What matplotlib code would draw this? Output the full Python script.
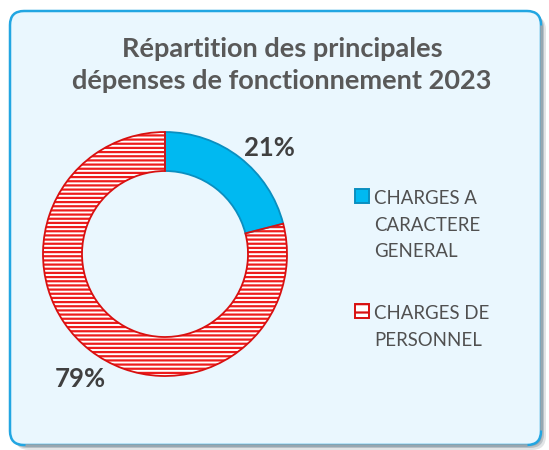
import numpy as np
import matplotlib
matplotlib.use("Agg")
import matplotlib.pyplot as plt
from matplotlib.patches import FancyBboxPatch, Rectangle, Wedge

# données
categories = ["CHARGES A\nCARACTERE\nGENERAL", "CHARGES DE\nPERSONNEL"]
parts = [21, 79]
colors = ["#00b9f1", "#ffffff"]
edge_colors = ["#0a8fc0", "#d81010"]
hatches = [None, "----"]
title = "Répartition des principales\ndépenses de fonctionnement 2023"

W, H = 549, 450

plt.rcParams["font.family"] = ["Lato", "DejaVu Sans"]
plt.rcParams["hatch.linewidth"] = 1.6

fig = plt.figure(figsize=(W / 100, H / 100), dpi=100)
fig.patch.set_facecolor("white")
ax = fig.add_axes([0, 0, 1, 1])

# cadre arrondi (ombre + fond)
for off, a in [(5, 0.25), (3, 0.45), (1.5, 0.6)]:
    ax.add_patch(FancyBboxPatch((10 + off, 5 - off), 531, 434, boxstyle="round,pad=0,rounding_size=14",
                                facecolor="#8a969e", edgecolor="none", alpha=a))
frame = FancyBboxPatch((10, 5), 531, 434, boxstyle="round,pad=0,rounding_size=14",
                       facecolor="#eaf7fe", edgecolor="#22a6e2", linewidth=1.8)
ax.add_patch(frame)
# bords droit / bas grisés
ax.plot([541, 541], [20, 425], color="#9aa6ae", lw=1.8, solid_capstyle="butt")
ax.plot([25, 527], [5, 5], color="#9aa6ae", lw=1.8, solid_capstyle="butt")

# anneau
center = (165, H - 254)
radius = 122
wedges, _, autotexts = ax.pie(parts, colors=colors, startangle=90, counterclock=False,
                              radius=radius, center=center, autopct="%d%%", pctdistance=1.2,
                              wedgeprops=dict(width=39, linewidth=0))
for w, ec, h in zip(wedges, edge_colors, hatches):
    if h:
        w.set_hatch(h)
        w.set_edgecolor("#ee1c1c")
    # contour
    outline = Wedge(w.center, w.r, w.theta1, w.theta2, width=w.width,
                    facecolor="none", edgecolor=ec, linewidth=1.3)
    ax.add_patch(outline)

label_pos = [(269, H - 148), (80, H - 379)]
for t, pos in zip(autotexts, label_pos):
    t.set_position(pos)
    t.set_fontsize(18.5)
    t.set_fontweight("bold")
    t.set_color("#404040")
    t.set_ha("center")
    t.set_va("center")

ax.set_xlim(0, W)
ax.set_ylim(0, H)
ax.set_aspect("auto")
ax.axis("off")

# titre
ax.text(282, H - 65, title, ha="center", va="center", fontsize=19.5, fontweight="bold",
        color="#595959", linespacing=1.38)

# légende
leg_y = [196, 311]
for cat, c, ec, h, y in zip(categories, colors, edge_colors, hatches, leg_y):
    ax.add_patch(Rectangle((355, H - y - 7), 14, 14, facecolor=c if not h else "#ffffff",
                           edgecolor=ec, hatch="--" if h else None, linewidth=1.4))
    ax.text(374, H - y + 6, cat, ha="left", va="top", fontsize=13.4, color="#505050",
            linespacing=1.68)

fig.savefig("out.png", dpi=100)
